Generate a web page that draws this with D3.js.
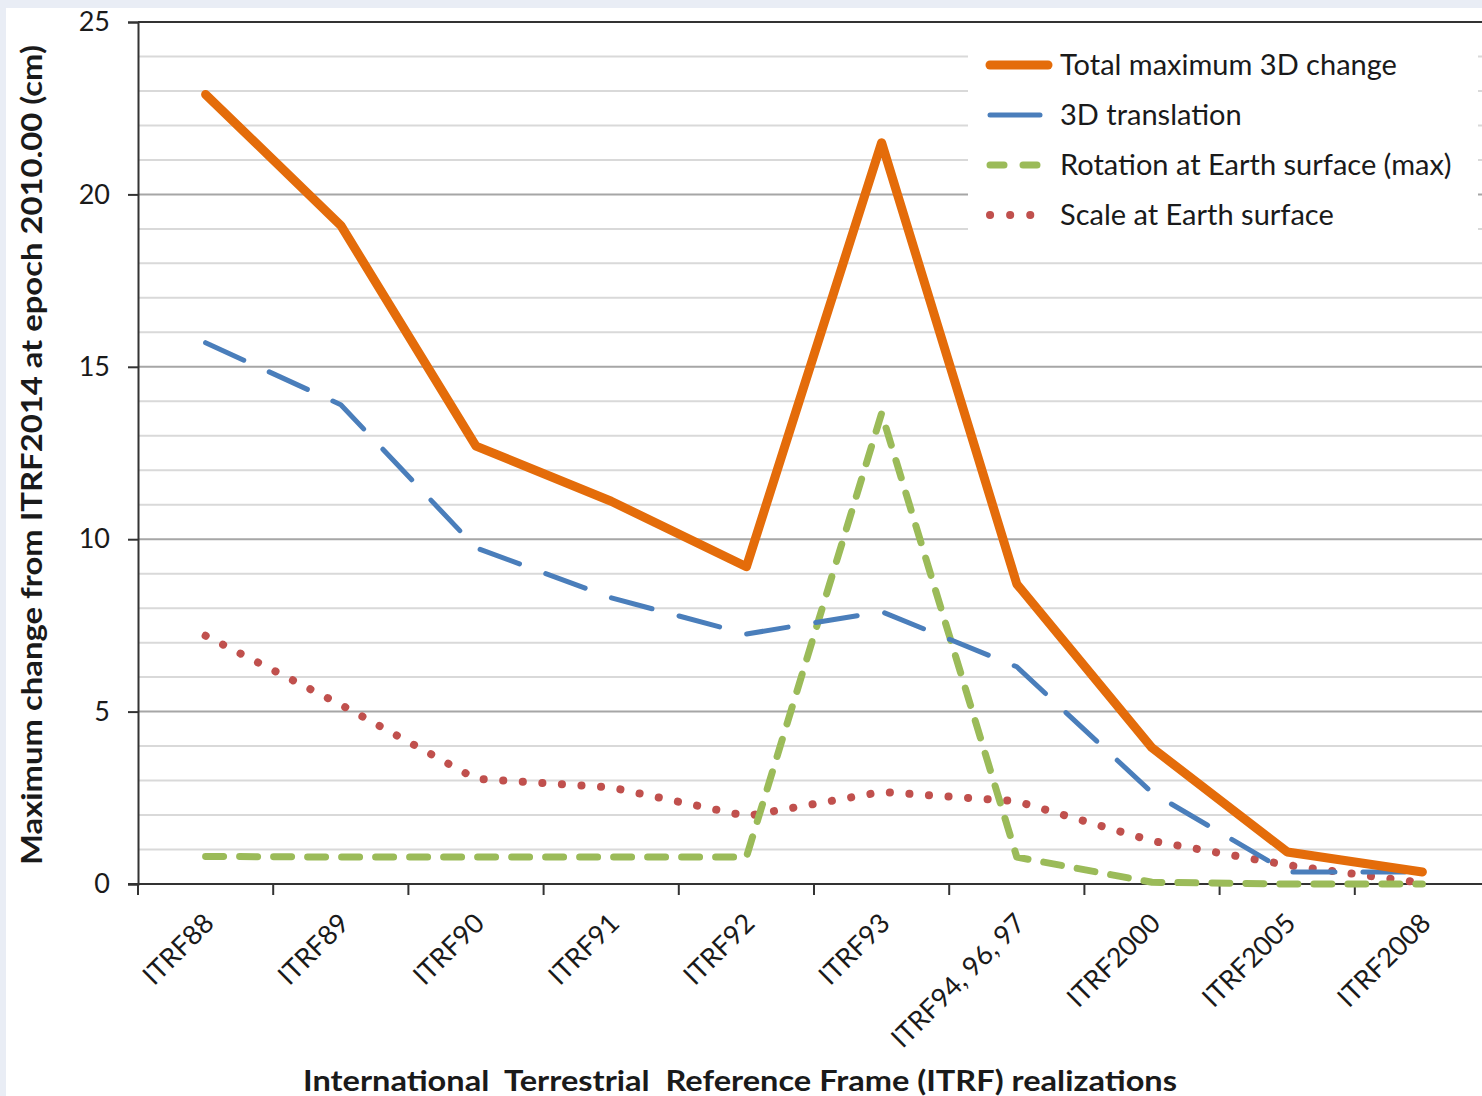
<!DOCTYPE html>
<html>
<head>
<meta charset="utf-8">
<script src="https://cdn.jsdelivr.net/npm/d3@7"></script>
<style>
  body { margin: 0; background: #e9edf5; }
  svg { display: block; }
  text { font-family: Lato, "Open Sans", sans-serif; fill: #1a1a1a; }
</style>
</head>
<body>
<svg id="chart"></svg>
<script>
// ITRF realizations and the change (cm) of each one relative to ITRF2014
const categories = ['ITRF88', 'ITRF89', 'ITRF90', 'ITRF91', 'ITRF92', 'ITRF93',
    'ITRF94, 96, 97', 'ITRF2000', 'ITRF2005', 'ITRF2008'];
const totalChange = [22.9, 19.1, 12.7, 11.1, 9.2, 21.5, 8.7, 3.95, 0.93, 0.35];
const translation = [15.7, 13.9, 9.75, 8.3, 7.25, 7.9, 6.3, 2.65, 0.35, 0.35];
const rotation = [0.8, 0.78, 0.78, 0.78, 0.78, 13.65, 0.78, 0.05, 0.0, 0.0];
const scaleSurface = [7.2, 5.2, 3.05, 2.8, 1.97, 2.67, 2.4, 1.25, 0.55, 0.03];
const yTicks = [0, 5, 10, 15, 20, 25];

const WIDTH = 1482;
const HEIGHT = 1096;

const series = [
    { name: 'Total maximum 3D change', values: totalChange, color: '#e46c0a', width: 9, dash: null },
    { name: '3D translation', values: translation, color: '#4a7ebb', width: 5, dash: '42,28' },
    { name: 'Rotation at Earth surface (max)', values: rotation, color: '#9bbb59', width: 7, dash: '18,16' },
    { name: 'Scale at Earth surface', values: scaleSurface, color: '#c0504d', width: 8, dash: '0.1,19.5' }
];

let svg = d3.select('#chart')
    .attr('width', WIDTH)
    .attr('height', HEIGHT);

// pale slide background with the white chart panel on top
svg.append('rect')
    .attr('x', 6).attr('y', 8)
    .attr('width', WIDTH).attr('height', HEIGHT)
    .attr('fill', '#ffffff');

const plotLeft = 138;
const plotTop = 22;
const plotBottom = 884;

let xScale = d3.scaleBand()
    .domain(categories)
    .range([plotLeft, plotLeft + 135.2 * categories.length])
    .padding(0);

let yScale = d3.scaleLinear()
    .domain([0, 25])
    .range([plotBottom, plotTop]);

let xMid = d => xScale(d) + xScale.bandwidth() / 2;

// horizontal grid, one line per cm
let grid = svg.append('g').attr('class', 'grid');
grid.selectAll('line')
    .data(d3.range(1, 26))
    .enter().append('line')
    .attr('x1', plotLeft)
    .attr('x2', WIDTH)
    .attr('y1', d => yScale(d))
    .attr('y2', d => yScale(d))
    .attr('stroke', d => d === 25 ? '#333333' : (d % 5 === 0 ? '#a6a6a6' : '#d9d9d9'))
    .attr('stroke-width', 2);

// y axis
let yAxis = d3.axisLeft(yScale)
    .tickValues(yTicks)
    .tickSize(10)
    .tickPadding(18);
let yAxisG = svg.append('g')
    .attr('transform', `translate(${plotLeft}, 0)`)
    .call(yAxis);
yAxisG.select('.domain').attr('stroke', '#333').attr('stroke-width', 2);
yAxisG.selectAll('.tick line').attr('stroke', '#333').attr('stroke-width', 2);
yAxisG.selectAll('.tick text')
    .style('font-size', '27px')
    .style('font-family', 'Lato, sans-serif')
    .attr('fill', '#333');

// x axis: line, boundary ticks, rotated labels
let xAxisG = svg.append('g').attr('class', 'x-axis');
xAxisG.append('line')
    .attr('x1', plotLeft - 10).attr('x2', WIDTH)
    .attr('y1', plotBottom).attr('y2', plotBottom)
    .attr('stroke', '#333').attr('stroke-width', 2);
xAxisG.selectAll('.xtick')
    .data(categories)
    .enter().append('line')
    .attr('class', 'xtick')
    .attr('x1', d => xScale(d)).attr('x2', d => xScale(d))
    .attr('y1', plotBottom).attr('y2', plotBottom + 11)
    .attr('stroke', '#333').attr('stroke-width', 2);
xAxisG.selectAll('.xlabel')
    .data(categories)
    .enter().append('text')
    .attr('class', 'xlabel')
    .attr('text-anchor', 'end')
    .attr('transform', d => `translate(${xMid(d) + 10}, ${plotBottom + 41}) rotate(-45)`)
    .style('font-size', '27px')
    .text(d => d);

// the four lines
let line = d3.line()
    .x((d, i) => xMid(categories[i]))
    .y(d => yScale(d));

let lines = svg.append('g').attr('class', 'lines');
// draw order: scale, rotation, translation, total on top
[3, 2, 1, 0].forEach(k => {
    let s = series[k];
    lines.append('path')
        .datum(s.values)
        .attr('d', line)
        .attr('fill', 'none')
        .attr('stroke', s.color)
        .attr('stroke-width', s.width)
        .attr('stroke-linecap', 'round')
        .attr('stroke-linejoin', 'round')
        .attr('stroke-dasharray', s.dash);
});

// legend
let legend = svg.append('g').attr('class', 'legend');
legend.append('rect')
    .attr('x', 968).attr('y', 40)
    .attr('width', 510).attr('height', 200)
    .attr('fill', '#ffffff');
let legendItem = legend.selectAll('.legend-item')
    .data(series)
    .enter().append('g')
    .attr('class', 'legend-item')
    .attr('transform', (d, i) => `translate(0, ${65 + i * 50})`);
legendItem.append('line')
    .attr('x1', 990)
    .attr('x2', (d, i) => [1048, 1040, 1043, 1032][i])
    .attr('y1', 0).attr('y2', 0)
    .attr('stroke', d => d.color)
    .attr('stroke-width', d => d.width)
    .attr('stroke-linecap', 'round')
    .attr('stroke-dasharray', (d, i) => [null, null, '14,19', '0.1,20'][i]);
legendItem.append('text')
    .attr('x', 1060)
    .attr('dy', '0.35em')
    .style('font-size', '29px')
    .text(d => d.name);

// axis titles
svg.append('text')
    .attr('transform', `translate(42, 455) rotate(-90)`)
    .attr('text-anchor', 'middle')
    .attr('textLength', 820)
    .attr('lengthAdjust', 'spacingAndGlyphs')
    .style('font-size', '28px')
    .style('font-weight', 'bold')
    .attr('fill', '#000')
    .text('Maximum  change  from ITRF2014 at epoch 2010.00 (cm)');

svg.append('text')
    .attr('x', 740)
    .attr('y', 1091)
    .attr('text-anchor', 'middle')
    .attr('textLength', 874)
    .attr('lengthAdjust', 'spacingAndGlyphs')
    .style('font-size', '28px')
    .style('font-weight', 'bold')
    .style('white-space', 'pre')
    .attr('fill', '#000')
    .text('International  Terrestrial  Reference Frame (ITRF) realizations');
</script>
</body>
</html>
